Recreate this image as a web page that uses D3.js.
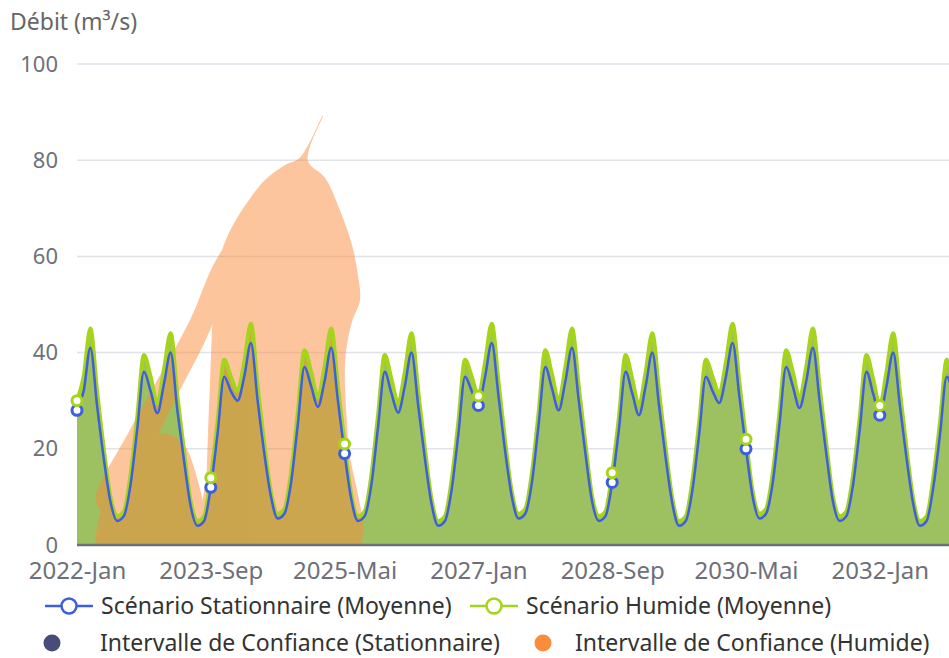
<!DOCTYPE html>
<html>
<head>
<meta charset="utf-8">
<script src="https://cdn.jsdelivr.net/npm/d3@7/dist/d3.min.js"></script>
<style>
    body { margin: 0; background: #fff; }
    svg { display: block; font-family: "Noto Sans", "Open Sans", sans-serif; }
</style>
</head>
<body>
<svg id="chart" width="949" height="658"></svg>
<script>
// mois en français pour les étiquettes de l'axe
const monthNames = ["Jan", "Fév", "Mar", "Avr", "Mai", "Juin", "Juil", "Aoû", "Sep", "Oct", "Nov", "Déc"];
const years = [2022, 2023, 2024, 2025, 2026, 2027, 2028, 2029, 2030, 2031, 2032];
const months = years.flatMap(y => monthNames.map(m => `${y}-${m}`));

// débit moyen, scénario stationnaire (m³/s), une ligne par année
const stationnaire = [
    28, 32, 41, 29, 18, 9, 5, 6, 12.5, 24, 36, 32,
    27.4, 33.5, 40, 28, 17.5, 8, 4, 5, 12, 23, 35, 32,
    30, 35, 42, 30, 19, 10, 5.5, 6.5, 13, 25, 37, 33,
    28.7, 34, 41, 30, 19, 9.5, 5, 6, 12.5, 24.5, 36, 31.5,
    27.5, 33, 40, 29, 18, 8.5, 4, 5, 11.5, 23, 35, 32,
    29, 35, 42, 31, 19.5, 10, 5.5, 6.5, 13, 25, 37, 32.5,
    28, 34, 41, 30, 19, 9, 5, 6, 13, 24, 36, 31.5,
    27, 33, 40, 29, 18, 8.5, 4, 5, 11.5, 23, 35, 32,
    29.5, 35, 42, 31, 20, 10, 5.5, 6.5, 13, 25, 37, 33,
    28.5, 34, 41, 30, 19, 9, 5, 6, 12.5, 24, 36, 31.5,
    27, 33, 40, 29, 18, 8.5, 4, 5, 12, 23, 35, 31
];

// débit moyen, scénario humide (m³/s)
const humide = [
    30, 35, 45, 32, 20, 10, 6, 7, 14.5, 26.5, 39.5, 35,
    29.4, 36.5, 44, 31, 19.5, 9, 5, 6, 14, 25.5, 38.5, 35,
    32, 38, 46, 33, 21, 11, 6.5, 7.5, 15, 27.5, 40.5, 36,
    30.7, 37, 45, 33, 21, 10.5, 6, 7, 14.5, 27, 39.5, 34.5,
    29.5, 36, 44, 32, 20, 9.5, 5, 6, 13.5, 25.5, 38.5, 35,
    31, 38, 46, 34, 21.5, 11, 6.5, 7.5, 15, 27.5, 40.5, 35.5,
    30, 37, 45, 33, 21, 10, 6, 7, 15, 26.5, 39.5, 34.5,
    29, 36, 44, 32, 20, 9.5, 5, 6, 13.5, 25.5, 38.5, 35,
    31.5, 38, 46, 34, 22, 11, 6.5, 7.5, 15, 27.5, 40.5, 36,
    30.5, 37, 45, 33, 21, 10, 6, 7, 14.5, 26.5, 39.5, 34.5,
    29, 36, 44, 32, 20, 9.5, 5, 6, 14, 25.5, 38.5, 34
];

// intervalle de confiance (humide) : contours [indice du mois, débit]
const icHumideBras = [
    [2.8, 9.4], [7.9, 23.9], [12.4, 35.3], [16.9, 46.8], [20.6, 58.8], [22.6, 62.4],
    [23.5, 58.8], [19.9, 44.7], [15.4, 32.2], [10.9, 19.8], [6.1, 8.3], [4.0, 6.9]
];
const icHumideLobe = [
    [21.7, 61.3], [23.6, 67.2], [25.9, 72.1], [28.1, 75.9], [31.1, 79.0], [33.3, 80.5],
    [36.8, 89.4], [34.5, 80.0], [37.1, 76.3], [39.3, 69.6], [41.1, 62.4], [42.0, 56.1],
    [42.3, 50.9], [41.1, 46.4], [40.1, 38.5], [40.5, 21.8], [41.7, -2], [19.1, -2],
    [19.4, 15.6], [19.9, 34.3], [20.5, 50.9]
];
const icHumideBosse = [
    [3.4, -2], [3.7, 8.3], [5.2, 16.0], [8.2, 21.4], [12.1, 23.3], [15.4, 21.8],
    [17.6, 15.6], [18.7, -2]
];

const yTicks = [0, 20, 40, 60, 80, 100];
const tickStep = 20;

const colors = {
    stat: "#3c5fdc",
    hum: "#a6d41c",
    humFill: "#9dc061",
    icStat: "#474c78",
    icHum: "#fa8c3c",
    axis: "#6e7079",
    grid: "#e0e3ea"
};

const svg = d3.select("#chart");
const x0 = 77, monthWidth = 6.69;

const x = d3.scaleLinear()
    .domain([0, months.length - 1])
    .range([x0, x0 + monthWidth * (months.length - 1)]);

const y = d3.scaleLinear()
    .domain([0, 100])
    .range([545, 64]);

svg.append("defs")
    .append("clipPath")
    .attr("id", "plot")
    .append("rect")
    .attr("x", x0)
    .attr("y", 0)
    .attr("width", 949 - x0)
    .attr("height", y(0));

// grille
svg.append("g")
    .selectAll("line")
    .data(yTicks.filter(d => d > 0))
    .enter()
    .append("line")
    .attr("x1", x0)
    .attr("x2", 949)
    .attr("y1", d => y(d))
    .attr("y2", d => y(d))
    .attr("stroke", colors.grid)
    .attr("stroke-width", 1.5);

const idx = d3.range(months.length);

// aire sous le scénario humide
svg.append("path")
    .datum(idx)
    .attr("fill", colors.humFill)
    .attr("d", d3.area()
        .x(i => x(i))
        .y0(y(0))
        .y1(i => y(humide[i]))
        .curve(d3.curveMonotoneX));

// intervalle de confiance humide (semi-transparent)
const outline = d3.line()
    .x(d => x(d[0]))
    .y(d => y(d[1]))
    .curve(d3.curveCatmullRomClosed.alpha(0.5));

svg.append("g")
    .attr("opacity", 0.5)
    .attr("clip-path", "url(#plot)")
    .selectAll("path")
    .data([icHumideBras, icHumideLobe, icHumideBosse])
    .enter()
    .append("path")
    .attr("fill", colors.icHum)
    .attr("d", outline);

// courbes
const curveLine = values => d3.line()
    .x(i => x(i))
    .y(i => y(values[i]))
    .curve(d3.curveMonotoneX);

svg.append("path")
    .datum(idx)
    .attr("fill", "none")
    .attr("stroke", colors.hum)
    .attr("stroke-width", 4)
    .attr("d", curveLine(humide));

svg.append("path")
    .datum(idx)
    .attr("fill", "none")
    .attr("stroke", colors.stat)
    .attr("stroke-width", 2.5)
    .attr("d", curveLine(stationnaire));

// symboles visibles (un sur vingt)
const shown = idx.filter(i => i % tickStep === 0);
[[stationnaire, colors.stat], [humide, colors.hum]].forEach(([values, c]) => {
    svg.append("g")
        .selectAll("circle")
        .data(shown)
        .enter()
        .append("circle")
        .attr("cx", i => x(i))
        .attr("cy", i => y(values[i]))
        .attr("r", 5)
        .attr("fill", "#fff")
        .attr("stroke", c)
        .attr("stroke-width", 3);
});

// axes
const xAxis = svg.append("g")
    .attr("transform", `translate(0, ${y(0)})`)
    .call(d3.axisBottom(x)
        .tickValues(shown)
        .tickFormat(i => months[i])
        .tickSize(0)
        .tickPadding(17));
xAxis.select(".domain").remove();
xAxis.append("line")
    .attr("x1", x0)
    .attr("x2", 949)
    .attr("stroke", colors.axis)
    .attr("stroke-width", 2.5);
xAxis.selectAll(".tick text")
    .attr("fill", colors.axis)
    .style("font-size", "24px")
    .style("font-family", '"Noto Sans", sans-serif');

const yAxis = svg.append("g")
    .attr("transform", `translate(${x0}, 0)`)
    .call(d3.axisLeft(y)
        .tickValues(yTicks)
        .tickSize(0)
        .tickPadding(19));
yAxis.select(".domain").remove();
yAxis.selectAll(".tick text")
    .attr("fill", colors.axis)
    .style("font-size", "22px")
    .style("font-family", '"Noto Sans", sans-serif');

svg.append("text")
    .attr("x", 10)
    .attr("y", 30)
    .attr("fill", "#666")
    .style("font-size", "23px")
    .text("Débit (m³/s)");

// légende
const legendLines = [
    { name: "Scénario Stationnaire (Moyenne)", color: colors.stat, x: 45, y: 606 },
    { name: "Scénario Humide (Moyenne)", color: colors.hum, x: 470, y: 606 }
];
const legendDots = [
    { name: "Intervalle de Confiance (Stationnaire)", color: colors.icStat, x: 52, tx: 100, y: 643 },
    { name: "Intervalle de Confiance (Humide)", color: colors.icHum, x: 543, tx: 575, y: 643 }
];

const legend = svg.append("g").style("font-size", "23px");

legendLines.forEach(d => {
    legend.append("line")
        .attr("x1", d.x).attr("x2", d.x + 48)
        .attr("y1", d.y).attr("y2", d.y)
        .attr("stroke", d.color)
        .attr("stroke-width", 2.5);
    legend.append("circle")
        .attr("cx", d.x + 24).attr("cy", d.y)
        .attr("r", 7.5)
        .attr("fill", "#fff")
        .attr("stroke", d.color)
        .attr("stroke-width", 2.5);
    legend.append("text")
        .attr("x", d.x + 56)
        .attr("y", d.y)
        .attr("dy", "0.35em")
        .attr("fill", "#333")
        .text(d.name);
});

legendDots.forEach(d => {
    legend.append("circle")
        .attr("cx", d.x).attr("cy", d.y)
        .attr("r", 8.5)
        .attr("fill", d.color);
    legend.append("text")
        .attr("x", d.tx)
        .attr("y", d.y)
        .attr("dy", "0.35em")
        .attr("fill", "#333")
        .text(d.name);
});
</script>
</body>
</html>
